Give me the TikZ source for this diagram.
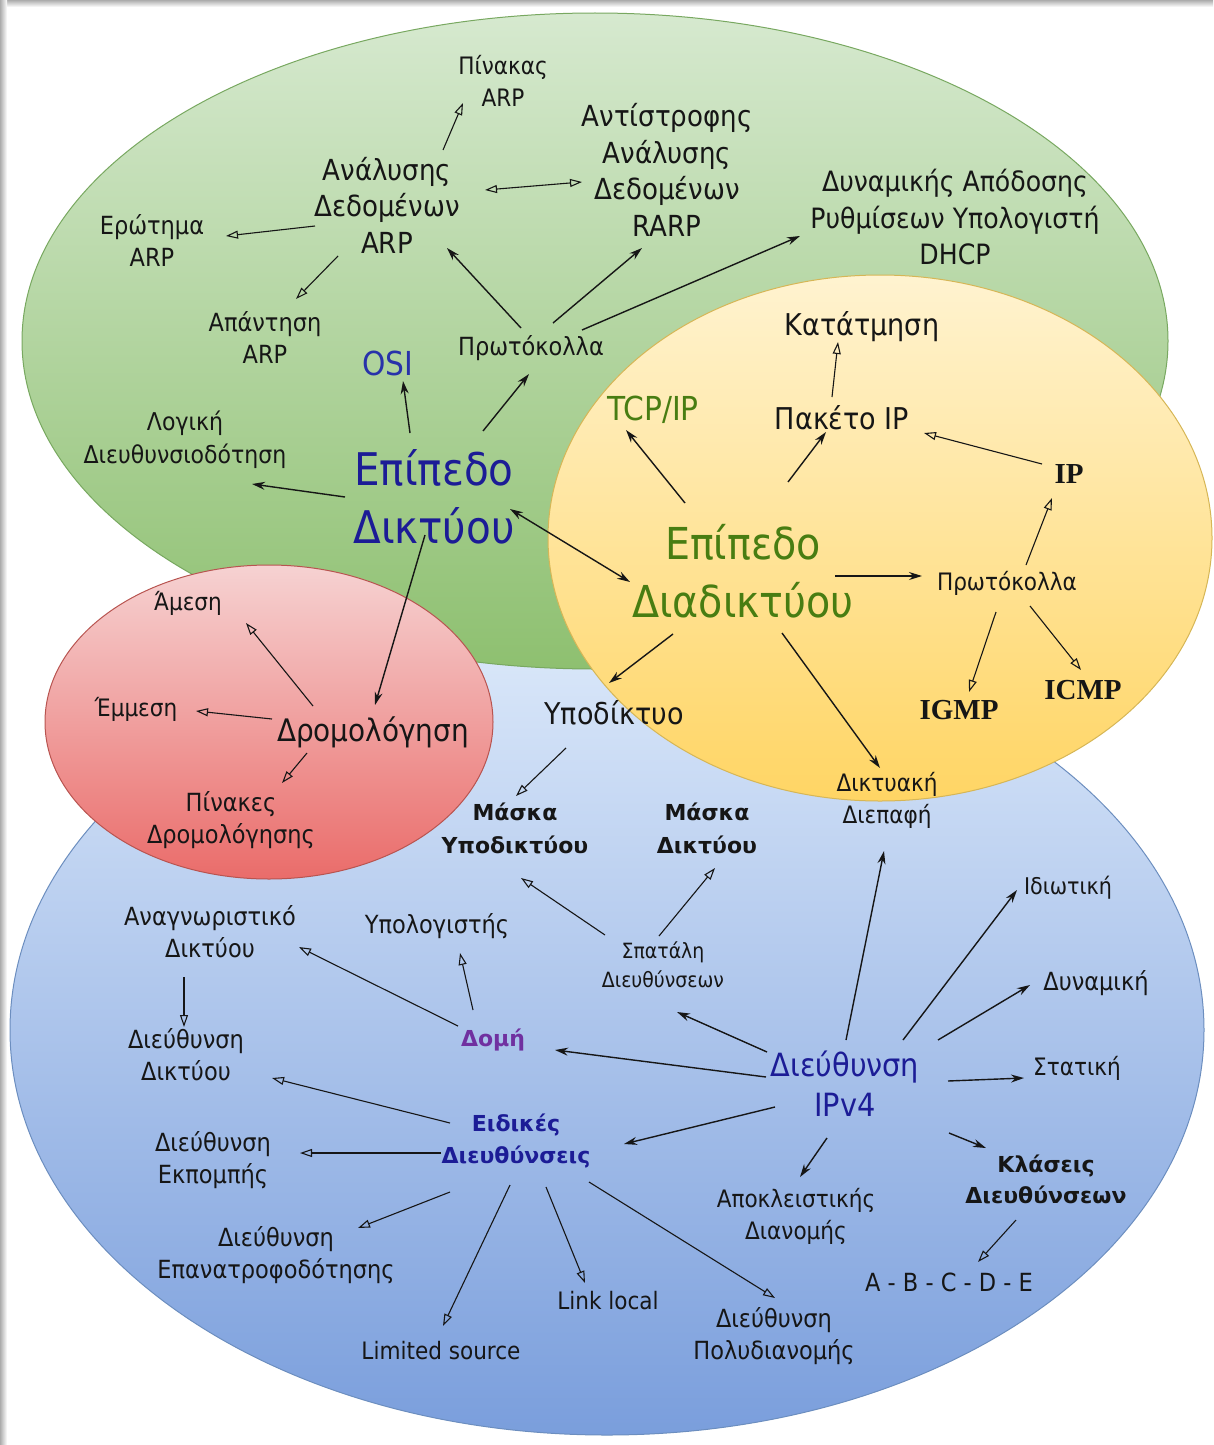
\documentclass[tikz,border=0pt]{standalone}
\usepackage{fontspec}
\newfontfamily\thm{DejaVu Sans Condensed}
\newfontfamily\vrd{DejaVu Sans}
\newfontfamily\srf{Liberation Serif}
\usetikzlibrary{arrows.meta}

% colours of the four zones
\definecolor{grntop}{RGB}{214,233,207}
\definecolor{grnbot}{RGB}{142,192,112}
\definecolor{grnln}{RGB}{120,168,96}
\definecolor{yeltop}{RGB}{255,243,208}
\definecolor{yelbot}{RGB}{255,213,100}
\definecolor{yelln}{RGB}{214,182,86}
\definecolor{redtop}{RGB}{246,210,210}
\definecolor{redbot}{RGB}{234,108,106}
\definecolor{redln}{RGB}{184,84,80}
\definecolor{blutop}{RGB}{220,233,250}
\definecolor{blubot}{RGB}{122,158,220}
\definecolor{bluln}{RGB}{108,142,191}
\definecolor{ink}{RGB}{22,22,22}
\definecolor{navy}{RGB}{28,28,150}
\definecolor{osiblue}{RGB}{40,50,170}
\definecolor{olive}{RGB}{72,125,18}
\definecolor{purp}{RGB}{112,48,160}

\tikzset{
  lbl/.style={align=center, inner sep=1pt, text=ink},
  fs/.style 2 args={font=\thm\fontsize{#1}{#2}\selectfont},
  bf/.style 2 args={font=\vrd\bfseries\fontsize{#1}{#2}\selectfont},
  sb/.style={font=\srf\bfseries\fontsize{#1}{#1}\selectfont},
  fa/.style={-{Stealth[length=13pt,width=8pt]}, line width=1.4pt, draw=ink},
  oa/.style={-{Triangle[open,length=12pt,width=8pt]}, line width=1.1pt, draw=ink},
}

\begin{document}
\begin{tikzpicture}[x=1pt, y=-1pt]
    \useasboundingbox (0,0) rectangle (1213,1445);
    % Draw frame shadow
    \shade[top color=gray!65, bottom color=white] (0,0) rectangle (1213,7);
    \shade[left color=gray!65, right color=white] (0,0) rectangle (7,1445);

    % Draw the four zones
    \shade[top color=blutop, bottom color=blubot, draw=bluln, line width=1pt]
        (607,1030) ellipse [x radius=597pt, y radius=405pt];
    \shade[top color=grntop, bottom color=grnbot, draw=grnln, line width=1pt]
        (595,341) ellipse [x radius=573pt, y radius=328pt];
    \shade[top color=redtop, bottom color=redbot, draw=redln, line width=1pt]
        (269,722) ellipse [x radius=224pt, y radius=157pt];
    \shade[top color=yeltop, bottom color=yelbot, draw=yelln, line width=1pt]
        (880,538) ellipse [x radius=332pt, y radius=263pt];

    % Network layer (green)
    \node[lbl, fs={24}{32}] (pin) at (503,81) {Πίνακας\\ARP};
    \node[lbl, fs={29}{36.5}] (ada) at (387,205) {Ανάλυσης\\Δεδομένων\\ARP};
    \node[lbl, fs={29}{36.5}] (rarp) at (667,170) {Αντίστροφης\\Ανάλυσης\\Δεδομένων\\RARP};
    \node[lbl, fs={28}{36.5}] (dhcp) at (955,217) {Δυναμικής Απόδοσης\\Ρυθμίσεων Υπολογιστή\\DHCP};
    \node[lbl, fs={25}{32}] (ero) at (152,240) {Ερώτημα\\ARP};
    \node[lbl, fs={25}{32}] (apa) at (265,337) {Απάντηση\\ARP};
    \node[lbl, fs={33}{33}, text=osiblue] (osi) at (388,363) {OSI};
    \node[lbl, fs={25}{25}] (prg) at (531,348) {Πρωτόκολλα};
    \node[lbl, fs={24.5}{33}] (log) at (185,440) {Λογική\\Διευθυνσιοδότηση};
    \node[lbl, fs={45}{58}, text=navy] (edk) at (434,497) {Επίπεδο\\Δικτύου};

    % Internet layer (yellow)
    \node[lbl, fs={30}{30}] (kat) at (862,327) {Κατάτμηση};
    \node[lbl, fs={33}{33}, text=olive] (tcp) at (653,410) {TCP/IP};
    \node[lbl, fs={30}{30}] (pak) at (842,418) {Πακέτο IP};
    \node[lbl, sb=29] (ip) at (1069,474) {IP};
    \node[lbl, fs={44}{58}, text=olive] (edd) at (743,571) {Επίπεδο\\Διαδικτύου};
    \node[lbl, fs={24}{24}] (pry) at (1007,583) {Πρωτόκολλα};
    \node[lbl, sb=29] (igmp) at (959,710) {IGMP};
    \node[lbl, sb=29] (icmp) at (1083,690) {ICMP};
    \node[lbl, fs={30}{30}] (ypo) at (614,713) {Υποδίκτυο};
    \node[lbl, fs={24}{32}] (dik) at (887,800) {Δικτυακή\\Διεπαφή};

    % Routing (red)
    \node[lbl, fs={24}{24}] (ame) at (188,603) {Άμεση};
    \node[lbl, fs={24}{24}] (emm) at (136,709) {Έμμεση};
    \node[lbl, fs={31}{31}] (dro) at (373,732) {Δρομολόγηση};
    \node[lbl, fs={25}{32}] (pid) at (231,820) {Πίνακες\\Δρομολόγησης};

    % IPv4 address (blue)
    \node[lbl, bf={22}{33}] (msy) at (515,828) {Μάσκα\\Υποδικτύου};
    \node[lbl, bf={22}{33}] (msd) at (707,828) {Μάσκα\\Δικτύου};
    \node[lbl, fs={25}{32}] (ana) at (210,932) {Αναγνωριστικό\\Δικτύου};
    \node[lbl, fs={25}{25}] (ypl) at (437,926) {Υπολογιστής};
    \node[lbl, fs={21}{29}] (spa) at (663,965) {Σπατάλη\\Διευθύνσεων};
    \node[lbl, fs={23}{23}] (idi) at (1068,888) {Ιδιωτική};
    \node[lbl, fs={25}{25}] (dyn) at (1096,983) {Δυναμική};
    \node[lbl, fs={25}{32}] (ddk) at (186,1055) {Διεύθυνση\\Δικτύου};
    \node[lbl, bf={22}{22}, text=purp] (dom) at (493,1040) {Δομή};
    \node[lbl, fs={32}{40}, text=navy] (ipv) at (845,1084) {Διεύθυνση\\IPv4};
    \node[lbl, fs={24}{24}] (sta) at (1077,1068) {Στατική};
    \node[lbl, fs={25}{32}] (ekp) at (213,1160) {Διεύθυνση\\Εκπομπής};
    \node[lbl, bf={22}{32}, text=navy] (eid) at (516,1141) {Ειδικές\\Διευθύνσεις};
    \node[lbl, bf={22}{31}] (kla) at (1046,1179) {Κλάσεις\\Διευθύνσεων};
    \node[lbl, fs={24}{32}] (apo) at (796,1216) {Αποκλειστικής\\Διανομής};
    \node[lbl, fs={25}{32}] (epa) at (276,1255) {Διεύθυνση\\Επανατροφοδότησης};
    \node[lbl, fs={25}{25}] (abc) at (949,1282) {A - B - C - D - E};
    \node[lbl, fs={24}{24}] (lnk) at (608,1301) {Link local};
    \node[lbl, fs={25}{32}] (pol) at (774,1336) {Διεύθυνση\\Πολυδιανομής};
    \node[lbl, fs={24}{24}] (lim) at (441,1351) {Limited source};

    % Filled arrows
    \foreach \a/\ax/\ay/\b/\bx/\by in {
        prg/-10/-20/ada/60/43, prg/22/-25/rarp/-25/78, prg/51/-18/dhcp/-155/19,
        edk/-24/-64/osi/15/18, edk/49/-66/prg/-2/26, edk/-89/0/log/67/44,
        edk/-9/38/dro/2/-27,
        edd/-58/-68/tcp/-27/20, edd/45/-89/pak/-16/14, edd/92/5/pry/-85/-7,
        edd/-70/63/ypo/-5/-30, edd/39/62/dik/-7/-32,
        ipv/1/-44/dik/-3/51, ipv/58/-44/idi/-51/2, ipv/93/-44/dyn/-66/2,
        ipv/-78/-32/spa/14/47, ipv/-79/-7/dom/62/10, ipv/103/-3/sta/-53/10,
        ipv/-70/23/eid/108/3, ipv/-18/54/apo/4/-39, ipv/104/49/kla/-60/-31}
        \draw[fa] ([shift={(\ax,\ay)}]\a.center) -- ([shift={(\bx,\by)}]\b.center);
    \draw[fa, {Stealth[length=13pt,width=8pt]}-{Stealth[length=13pt,width=8pt]}]
        ([shift={(76,12)}]edk.center) -- ([shift={(-113,11)}]edd.center);

    % Open arrows
    \foreach \a/\ax/\ay/\b/\bx/\by in {
        ada/56/-55/pin/-40/22, ada/-72/21/ero/74/-4, ada/-49/51/apa/31/-38,
        dro/-60/-26/ame/58/20, dro/-101/-13/emm/60/2, dro/-66/21/pid/51/-37,
        pak/-10/-21/kat/-24/15, ip/-27/-10/pak/82/15, pry/19/-18/ip/-17/24,
        pry/-11/29/igmp/10/-18, pry/23/23/icmp/-2/-20,
        ypo/-48/35/msy/1/-32, spa/-58/-30/msy/6/50, spa/-4/-29/msd/8/40,
        kla/-30/41/abc/29/-20, dom/-35/-14/ana/89/15, dom/-20/-30/ypl/23/27,
        ana/-26/45/ddk/-2/-28, eid/-66/-18/ddk/86/23, eid/-75/12/ekp/87/-7,
        eid/-66/51/epa/82/-27, eid/-6/44/lim/2/-25, eid/30/46/lnk/-23/-18,
        eid/73/41/pol/1/-38}
        \draw[oa] ([shift={(\ax,\ay)}]\a.center) -- ([shift={(\bx,\by)}]\b.center);
    \draw[oa, {Triangle[open,length=12pt,width=8pt]}-{Triangle[open,length=12pt,width=8pt]}]
        ([shift={(98,-15)}]ada.center) -- ([shift={(-85,12)}]rarp.center);
\end{tikzpicture}
\end{document}
